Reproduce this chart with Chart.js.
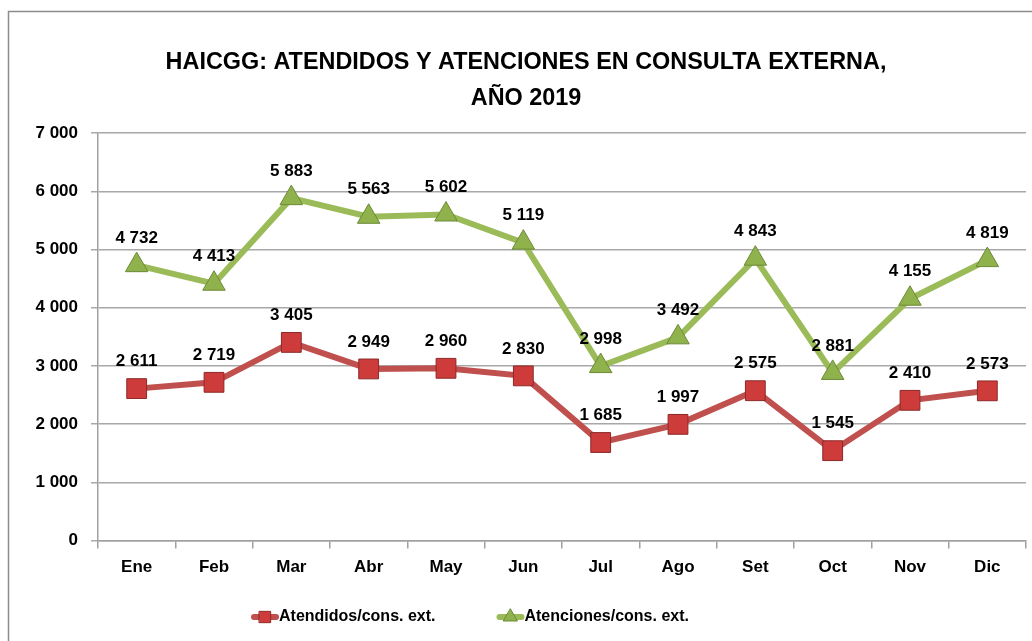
<!DOCTYPE html>
<html>
<head>
<meta charset="utf-8">
<script src="https://cdn.jsdelivr.net/npm/chart.js@4.4.0/dist/chart.umd.min.js"></script>
<style>
    html, body { margin: 0; padding: 0; background: #ffffff; }
    #wrap { position: relative; width: 1032px; height: 641px; }
</style>
</head>
<body>
<div id="wrap"><canvas id="consultaCanvas"></canvas></div>
<script>
// ---------------- Data ------------------------------------------------------
var months     = [ 'Ene', 'Feb', 'Mar', 'Abr', 'May', 'Jun',
                   'Jul', 'Ago', 'Set', 'Oct', 'Nov', 'Dic' ] ;
var atendidos  = [ 2611, 2719, 3405, 2949, 2960, 2830,
                   1685, 1997, 2575, 1545, 2410, 2573 ] ;
var atenciones = [ 4732, 4413, 5883, 5563, 5602, 5119,
                   2998, 3492, 4843, 2881, 4155, 4819 ] ;
var seriesNames = [ 'Atendidos/cons. ext.', 'Atenciones/cons. ext.' ] ;
var titleLines  = [ 'HAICGG: ATENDIDOS Y ATENCIONES EN CONSULTA EXTERNA,', 'AÑO 2019' ] ;
var yMin = 0, yMax = 7000, yStep = 1000 ;

// ---------------- Helpers ---------------------------------------------------
var FONT = '"Liberation Sans", Arial, sans-serif' ;

function fmt( v ) {
    return String( v ).replace( /\B(?=(\d{3})+(?!\d))/g, ' ' ) ;
}

// Outer chart frame (top and left edge are visible in the crop)
var framePlugin = {
    id: 'frame',
    beforeDraw: function( chart ) {
        var ctx = chart.ctx ;
        ctx.save() ;
        ctx.strokeStyle = '#8c8c8c' ;
        ctx.lineWidth = 1.5 ;
        ctx.beginPath() ;
        ctx.moveTo( 8.5, chart.height + 5 ) ;
        ctx.lineTo( 8.5, 11.5 ) ;
        ctx.lineTo( chart.width + 5, 11.5 ) ;
        ctx.stroke() ;
        ctx.restore() ;
    }
} ;

// Value labels above every point
var valueLabelPlugin = {
    id: 'valueLabels',
    afterDatasetsDraw: function( chart ) {
        var ctx = chart.ctx ;
        ctx.save() ;
        ctx.font = 'bold 17px ' + FONT ;
        ctx.fillStyle = '#000000' ;
        ctx.textAlign = 'center' ;
        ctx.textBaseline = 'middle' ;
        chart.data.datasets.forEach( function( ds, i ) {
            var meta = chart.getDatasetMeta( i ) ;
            meta.data.forEach( function( pt, j ) {
                ctx.fillText( fmt( ds.data[j] ), pt.x, pt.y - 27 ) ;
            } ) ;
        } ) ;
        ctx.restore() ;
    }
} ;

// Bottom legend: short line segment with the marker, text right after it
var legendPlugin = {
    id: 'lineLegend',
    afterDraw: function( chart ) {
        var ctx = chart.ctx ;
        var iconW = 28, itemGap = 61, centerX = 470 ;
        var y = chart.scales.x.bottom + 30 ;

        ctx.save() ;
        ctx.font = 'bold 16px ' + FONT ;
        ctx.textBaseline = 'middle' ;
        ctx.textAlign = 'left' ;

        var items = chart.data.datasets.map( function( ds ) {
            return { ds: ds, w: iconW + ctx.measureText( ds.label ).width } ;
        } ) ;
        var total = 0 ;
        items.forEach( function( it ) { total += it.w ; } ) ;
        total += itemGap * ( items.length - 1 ) ;

        var x = centerX - total / 2 ;
        items.forEach( function( it ) {
            var ds = it.ds ;
            ctx.strokeStyle = ds.borderColor ;
            ctx.lineWidth = 6 ;
            ctx.lineCap = 'round' ;
            ctx.beginPath() ;
            ctx.moveTo( x + 3, y ) ;
            ctx.lineTo( x + iconW - 3, y ) ;
            ctx.stroke() ;

            ctx.fillStyle = ds.pointBackgroundColor ;
            ctx.strokeStyle = ds.pointBorderColor ;
            ctx.lineWidth = 1 ;
            Chart.helpers.drawPoint( ctx, {
                pointStyle : ds.pointStyle,
                rotation   : 0,
                radius     : 8,
                borderWidth: 1
            }, x + iconW / 2, y ) ;

            ctx.fillStyle = '#000000' ;
            ctx.fillText( ds.label, x + iconW, y ) ;
            x += it.w + itemGap ;
        } ) ;
        ctx.restore() ;
    }
} ;

// ---------------- Datasets --------------------------------------------------
function getAtendidosDataset() {
    return {
        label                : seriesNames[0],
        data                 : atendidos,
        borderColor          : '#C0504D',
        backgroundColor      : '#C0504D',
        borderWidth          : 6,
        tension              : 0,
        pointStyle           : 'rect',
        pointRadius          : 14,
        pointHoverRadius     : 14,
        pointBackgroundColor : '#CD3B3B',
        pointBorderColor     : '#8C2A28',
        pointBorderWidth     : 1
    } ;
}

function getAtencionesDataset() {
    return {
        label                : seriesNames[1],
        data                 : atenciones,
        borderColor          : '#9BBB59',
        backgroundColor      : '#9BBB59',
        borderWidth          : 6,
        tension              : 0,
        pointStyle           : 'triangle',
        pointRadius          : 13,
        pointHoverRadius     : 13,
        pointBackgroundColor : '#8FB24C',
        pointBorderColor     : '#6C8A36',
        pointBorderWidth     : 1
    } ;
}

// ---------------- Options ---------------------------------------------------
function getScaleOptions() {
    return {
        x: {
            offset: true,
            afterFit: function( scale ) {
                scale.paddingLeft = 0 ;
                scale.paddingRight = 0 ;
            },
            grid: {
                display: true,
                offset: true,
                drawOnChartArea: false,
                tickLength: 8,
                color: '#a0a0a0',
                lineWidth: 1.5
            },
            border: { display: true, color: '#a0a0a0', width: 1.5 },
            ticks: {
                color: '#000000',
                padding: 9,
                font: { family: FONT, size: 17, weight: 'bold' }
            }
        },
        y: {
            min: yMin,
            max: yMax,
            afterFit: function( scale ) { scale.width = 72 ; },
            grid: {
                color: '#a8a8a8',
                lineWidth: 1.5,
                tickLength: 7
            },
            border: { display: true, color: '#a0a0a0', width: 1.5 },
            ticks: {
                stepSize: yStep,
                color: '#000000',
                padding: 13,
                font: { family: FONT, size: 17, weight: 'bold' },
                callback: function( value ) { return fmt( value ) ; }
            }
        }
    } ;
}

function getChartOptions() {
    return {
        responsive: true,
        maintainAspectRatio: false,
        animation: false,
        layout: {
            autoPadding: false,
            padding: { left: 26, right: 6, top: 0, bottom: 54 }
        },
        plugins: {
            legend: { display: false },
            tooltip: { enabled: false },
            title: {
                display: true,
                text: titleLines,
                color: '#000000',
                font: { family: FONT, size: 23.4, weight: 'bold', lineHeight: 1.52 },
                padding: { top: 45, bottom: 17 }
            }
        },
        scales: getScaleOptions()
    } ;
}

// ---------------- Draw ------------------------------------------------------
var canvas = document.getElementById( 'consultaCanvas' ) ;
var chart = new Chart( canvas, {
    type: 'line',
    data: {
        labels: months,
        datasets: [ getAtendidosDataset(), getAtencionesDataset() ]
    },
    options: getChartOptions(),
    plugins: [ framePlugin, valueLabelPlugin, legendPlugin ]
} ) ;
</script>
</body>
</html>
